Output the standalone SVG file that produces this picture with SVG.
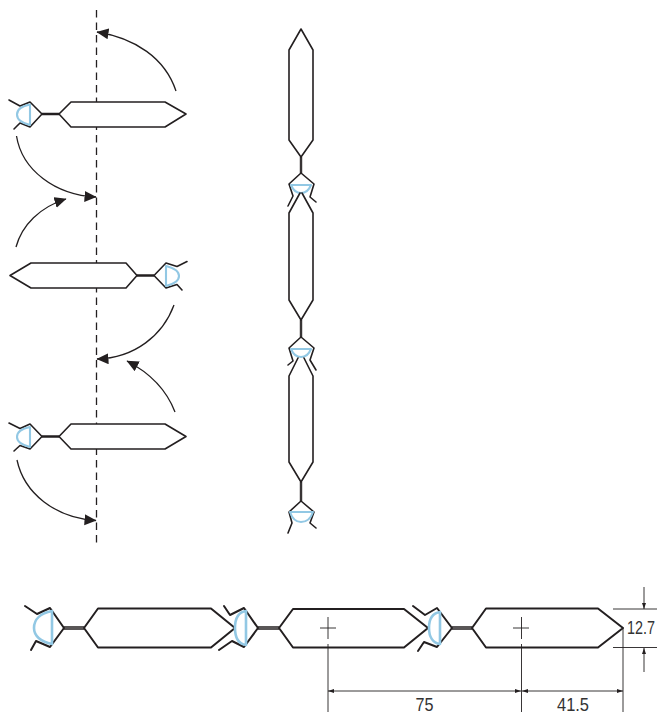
<svg xmlns="http://www.w3.org/2000/svg" width="657" height="714" viewBox="0 0 657 714">
<style>
.o{fill:#fff;stroke:#231f20;stroke-width:1.6;stroke-linejoin:round;stroke-linecap:round}
.t{fill:none;stroke:#231f20;stroke-width:1.6;stroke-linejoin:round;stroke-linecap:round}
.b{fill:none;stroke:#92c8e4;stroke-width:2.1;stroke-linejoin:round}
.h{fill:none;stroke:#231f20;stroke-width:1.1}
.r .o,.r .t{stroke-width:2}
.r .b{stroke-width:2.6}
.r .h{stroke-width:1.6}
.d{fill:none;stroke:#231f20;stroke-width:.9}
.a{fill:none;stroke:#231f20;stroke-width:1.3;marker-end:url(#arr)}
.s{stroke:#231f20;stroke-width:1.3;stroke-dasharray:7.500 5;fill:none}
text{font-family:"Liberation Sans",Arial,sans-serif;font-size:19px;fill:#333}
</style>
<defs>
<marker id="arr" markerUnits="userSpaceOnUse" markerWidth="13" markerHeight="12" refX="11.5" refY="5.5" orient="auto"><path d="M0,0L12,5.5L0,11Z" fill="#231f20"/></marker>
<marker id="da" markerUnits="userSpaceOnUse" markerWidth="7" markerHeight="5" refX="6" refY="2" orient="auto-start-reverse"><path d="M0,0L6,2L0,4Z" fill="#231f20"/></marker>
</defs>
<g id="axis"><path class="s" d="M96.5,10V546"/></g>
<g id="connectors">
<path class="a" d="M176,91C165,58 135,38 97,32"/>
<path class="a" d="M16.500,136C22,170 55,195 96,197"/>
<path class="a" d="M16,247C22,225 40,207 66,199"/>
<path class="a" d="M174,305C163,335 135,358 97,359"/>
<path class="a" d="M175,412C167,391 150,373 127,361"/>
<path class="a" d="M17,460C24,493 55,518 96,520.500"/>
</g>
<g id="blade-h1">
<path class="t" d="M9,100L20,106L30,102L42,114L30,127L20,123L14,129"/>
<path class="b" d="M30,104.500V125C22,123 17,120 17,114.500C17,109 22,106 30,104.500Z"/>
<path class="h" d="M42,113.350H59M42,114.650H59"/>
<path class="o" d="M59,114L71,102H165L186,114L165,127H71Z"/>
</g>
<g id="blade-h2">
<path class="t" d="M187,261.500L177,266.500L166,263L154,275.500L166,288L177,284.500L182,290"/>
<path class="b" d="M166,266V286C174,284 179,281 179,276C179,271 174,268 166,266Z"/>
<path class="h" d="M137,274.850H154M137,276.150H154"/>
<path class="o" d="M137,275.500L126,263H31L10,275.500L31,288H126Z"/>
</g>
<g id="blade-h3">
<path class="t" d="M9,423L20,428.500L30,424L42,436.500L30,449L20,445.500L14,451"/>
<path class="b" d="M30,427V447C22,445 17,442 17,437C17,431.500 22,428.500 30,427Z"/>
<path class="h" d="M42,435.850H59M42,437.150H59"/>
<path class="o" d="M59,436.500L71,424H165L186,436.500L165,449H71Z"/>
</g>
<g id="blade-v1">
<path class="o" d="M301,29L313,50V140L301,157L289,140V50Z"/>
<path class="h" d="M300.350,157V173M301.650,157V173"/>
<path class="t" d="M288,206L293,196L289,184L301,173L314,184L310,197L316,202"/>
<path class="b" d="M291,185H311C309,190 306,193 301,193C296,193 293,190 291,185Z"/>
</g>
<g id="blade-v2">
<path class="t" d="M300,193L289,213V300L301,320L313,300V213L302,193"/>
<path class="h" d="M300.350,320V337M301.650,320V337"/>
<path class="t" d="M288,365L293,361L289,348L301,337L314,348L310,360L316,370"/>
<path class="b" d="M291,349H311C309,354 306,357 301,357C296,357 293,354 291,349Z"/>
</g>
<g id="blade-v3">
<path class="t" d="M298,358L289,376V462L301,482L313,462V376L304,358"/>
<path class="h" d="M300.350,482V501M301.650,482V501"/>
<path class="t" d="M288,533L292,523L289,512L301,501L314,512L310,523L316,528"/>
<path class="b" d="M290,512H313C311,518 307,522 301,522C296,522 292,518 290,512Z"/>
</g>
<g id="blade-b1" class="r">
<path class="t" d="M25,606L37,614L50,608L64,628L50,647L36,641L31,650"/>
<path class="b" d="M52,611V644C41,642 34,636 34,628C34,619 41,613 52,611Z"/>
<path class="h" d="M64,627H84M64,629H84"/>
<path class="o" d="M84,628L98,608.500H211L235,628L211,647.500H98Z"/>
</g>
<g id="blade-b2" class="r">
<path class="t" d="M224,606L230,615L244,608L258,628L244,647L232,641L219,650"/>
<path class="b" d="M246,611V645C239,644 235,638 235,628C235,617 239,612 246,611Z"/>
<path class="h" d="M258,627H279M258,629H279"/>
<path class="o" d="M279,628L293,609H404L428,628L404,647.500H293Z"/>
</g>
<g id="blade-b3" class="r">
<path class="t" d="M413,606L425,615L437,608L452,628L437,647L424,642L418,651"/>
<path class="b" d="M440,612V644C433,643 429,637 429,628C429,618 433,613 440,612Z"/>
<path class="h" d="M452,627H472M452,629H472"/>
<path class="o" d="M472,628L486,608.500H598L623,628L598,647.500H486Z"/>
</g>
<g id="dimensions">
<path class="d" d="M320,628H336M328,617V639M328,644V712M513,628H529M521.500,617V639M521.500,644V712M623,628V712M613,609H657M613,647.500H657"/>
<path class="d" d="M328,691H521" marker-start="url(#da)" marker-end="url(#da)"/>
<path class="d" d="M522,691H623" marker-start="url(#da)" marker-end="url(#da)"/>
<path class="d" d="M644,587V609" marker-end="url(#da)"/>
<path class="d" d="M644,672V648" marker-end="url(#da)"/>
<text transform="translate(415.500 711) scale(.85 1)">75</text>
<text transform="translate(557 711) scale(.865 1)">41.5</text>
<text transform="translate(627 634) scale(.757 1)">12.7</text>
</g>
</svg>
